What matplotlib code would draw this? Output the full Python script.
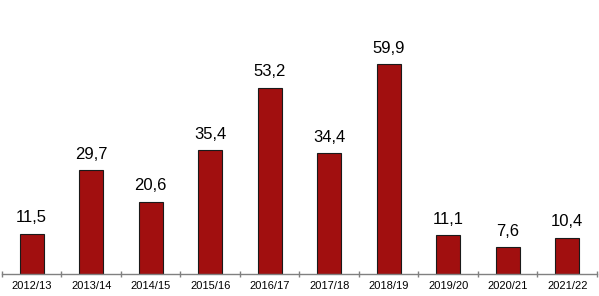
import numpy as np
import matplotlib.pyplot as plt

seasons = ['2012/13', '2013/14', '2014/15', '2015/16', '2016/17',
           '2017/18', '2018/19', '2019/20', '2020/21', '2021/22']
values = [11.5, 29.7, 20.6, 35.4, 53.2, 34.4, 59.9, 11.1, 7.6, 10.4]


def main():
    plt.rcParams['font.family'] = ['Liberation Sans', 'DejaVu Sans']

    fig = plt.figure(figsize=(5.99, 2.96), dpi=100)
    ax = fig.add_axes([0.0033, 0.0743, 0.9933, 0.829])

    x = np.arange(len(seasons))
    bars = ax.bar(x, values, width=0.4, color='#A10F0F',
                  edgecolor='#1a1a1a', linewidth=0.8)

    # value labels with decimal comma
    for rect, v in zip(bars, values):
        ax.annotate(f'{v:.1f}'.replace('.', ','),
                    xy=(rect.get_x() + rect.get_width() / 2, v),
                    xytext=(0, 6), textcoords='offset points',
                    ha='center', va='bottom', fontsize=12)

    ax.set_xlim(-0.5, len(seasons) - 0.5)
    ax.set_ylim(0, 70)

    # axis settings
    for side in ['top', 'right', 'left']:
        ax.spines[side].set_visible(False)
    ax.spines['bottom'].set_color('#808080')
    ax.spines['bottom'].set_linewidth(1.0)
    ax.set_yticks([])

    ax.set_xticks(x)
    ax.set_xticklabels(seasons, fontsize=8)
    ax.tick_params(axis='x', which='major', length=0, pad=5)
    ax.set_xticks(np.arange(-0.5, len(seasons)), minor=True)
    ax.tick_params(axis='x', which='minor', length=4.5, direction='inout',
                   color='#808080', width=1.0)

    plt.savefig('out.png', dpi=100)


if __name__ == '__main__':
    main()
